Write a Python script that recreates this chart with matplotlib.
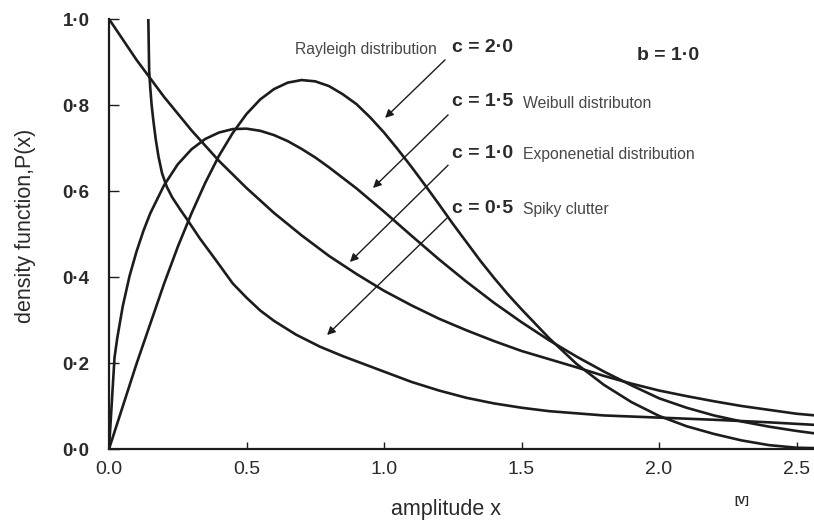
import matplotlib
matplotlib.use("Agg")
import matplotlib.pyplot as plt

# values (Weibull densities, b = 1.0)
x_ray = [0.0, 0.1, 0.2, 0.25, 0.3, 0.35, 0.4, 0.45, 0.5, 0.55, 0.6, 0.65, 0.7, 0.75,
         0.8, 0.85, 0.9, 0.95, 1.0, 1.05, 1.1, 1.15, 1.2, 1.25, 1.3, 1.35, 1.4, 1.45,
         1.5, 1.6, 1.7, 1.8, 1.9, 2.0, 2.1, 2.2, 2.3, 2.4, 2.5, 2.57]
y_ray = [0.0, 0.198, 0.384, 0.47, 0.548, 0.619, 0.682, 0.735, 0.779, 0.813, 0.837,
         0.852, 0.858, 0.855, 0.844, 0.825, 0.802, 0.771, 0.736, 0.697, 0.656, 0.613,
         0.569, 0.524, 0.481, 0.438, 0.398, 0.36, 0.325, 0.258, 0.198, 0.149, 0.109,
         0.077, 0.053, 0.035, 0.02, 0.009, 0.003, 0.002]

x_wei = [0.0, 0.02, 0.03, 0.05, 0.075, 0.1, 0.125, 0.15, 0.2, 0.25, 0.3, 0.35, 0.4,
         0.45, 0.5, 0.55, 0.6, 0.65, 0.7, 0.75, 0.8, 0.9, 1.0, 1.1, 1.2, 1.3, 1.4,
         1.5, 1.6, 1.7, 1.8, 1.9, 2.0, 2.1, 2.2, 2.3, 2.4, 2.5, 2.57]
y_wei = [0.0, 0.212, 0.258, 0.332, 0.403, 0.459, 0.507, 0.548, 0.613, 0.662, 0.697,
         0.721, 0.736, 0.744, 0.745, 0.74, 0.73, 0.716, 0.698, 0.678, 0.655, 0.606,
         0.552, 0.496, 0.441, 0.389, 0.34, 0.295, 0.253, 0.215, 0.18, 0.148, 0.118,
         0.096, 0.078, 0.064, 0.052, 0.042, 0.036]

x_exp = [0.0, 0.1, 0.2, 0.3, 0.4, 0.5, 0.6, 0.7, 0.8, 0.9, 1.0, 1.1, 1.2, 1.3, 1.4,
         1.5, 1.6, 1.7, 1.8, 1.9, 2.0, 2.1, 2.2, 2.3, 2.4, 2.5, 2.57]
y_exp = [1.0, 0.905, 0.819, 0.741, 0.67, 0.607, 0.549, 0.497, 0.449, 0.407, 0.368,
         0.334, 0.303, 0.276, 0.251, 0.228, 0.209, 0.19, 0.17, 0.152, 0.136, 0.123,
         0.111, 0.1, 0.091, 0.082, 0.078]

x_spk = [0.143, 0.146, 0.15, 0.155, 0.162, 0.17, 0.18, 0.193, 0.21, 0.23, 0.26, 0.285,
         0.33, 0.39, 0.45, 0.5, 0.55, 0.6, 0.68, 0.767, 0.85, 0.9, 1.0, 1.1, 1.2,
         1.3, 1.4, 1.5, 1.6, 1.8, 2.0, 2.2, 2.4, 2.57]
y_spk = [1.0, 0.88, 0.84, 0.8, 0.76, 0.72, 0.68, 0.641, 0.61, 0.585, 0.556, 0.533,
         0.49, 0.438, 0.385, 0.352, 0.322, 0.298, 0.266, 0.238, 0.216, 0.204,
         0.18, 0.156, 0.136, 0.119, 0.106, 0.096, 0.088, 0.078, 0.073, 0.068, 0.062,
         0.056]

curve_x = [x_ray, x_wei, x_exp, x_spk]
curve_y = [y_ray, y_wei, y_exp, y_spk]

c_labels = ["c = 2·0", "c = 1·5", "c = 1·0", "c = 0·5"]
c_names = ["", "Weibull distributon", "Exponenetial distribution", "Spiky clutter"]
label_y = [0.933, 0.807, 0.688, 0.56]
arrow_from = [(1.222, 0.905), (1.233, 0.777), (1.233, 0.66), (1.229, 0.537)]
arrow_to = [(1.004, 0.77), (0.96, 0.607), (0.876, 0.435), (0.793, 0.265)]

xticks = [0.0, 0.5, 1.0, 1.5, 2.0, 2.5]
xticklabels = ["0.0", "0.5", "1.0", "1.5", "2.0", "2.5"]
yticks = [0.0, 0.2, 0.4, 0.6, 0.8, 1.0]
yticklabels = ["0·0", "0·2", "0·4", "0·6", "0·8", "1·0"]

ink = "#1c1c1c"
sans = ["Liberation Sans", "DejaVu Sans"]

fig = plt.figure(figsize=(8.14, 5.22), dpi=100)
ax = fig.add_axes([109 / 814, 1 - 449 / 522, 705 / 814, 430 / 522])
ax.set_xlim(0, 705 / 275)
ax.set_ylim(0, 1.0)

for xs, ys in zip(curve_x, curve_y):
    ax.plot(xs, ys, color=ink, lw=1.9, solid_joinstyle="round")

for lab, name, ly, a0, a1 in zip(c_labels, c_names, label_y, arrow_from, arrow_to):
    ax.text(1.247, ly, lab, fontsize=14, fontweight="bold", color="#2a2a2a",
            family=sans, ha="left", va="center")
    if name:
        ax.text(1.505, ly - 0.004, name, fontsize=11.3, color="#474747",
                family=sans, ha="left", va="center")
    ax.annotate("", xy=a1, xytext=a0,
                arrowprops=dict(arrowstyle="-|>", lw=1.0, color=ink,
                                mutation_scale=12, shrinkA=0, shrinkB=0))

ax.text(1.193, 0.928, "Rayleigh distribution", fontsize=11.3, color="#474747",
        family=sans, ha="right", va="center")
ax.text(1.92, 0.914, "b = 1·0", fontsize=14, fontweight="bold", color="#2a2a2a",
        family=sans, ha="left", va="center")

for side in ["top", "right"]:
    ax.spines[side].set_visible(False)
for side in ["left", "bottom"]:
    ax.spines[side].set_linewidth(1.6)
    ax.spines[side].set_color(ink)

ax.set_xticks(xticks)
ax.set_xticklabels(xticklabels, family=sans, fontsize=14, color="#2a2a2a")
ax.set_yticks(yticks)
ax.set_yticklabels(yticklabels, family=sans, fontsize=13.5, color="#2a2a2a",
                   fontweight="bold")
ax.tick_params(axis="x", direction="in", length=5, width=1, pad=9, color=ink)
ax.tick_params(axis="y", direction="in", length=7, width=1, pad=14, color=ink)

ax.set_xlabel("amplitude x", family=sans, fontsize=15.5, color="#2a2a2a")
ax.xaxis.set_label_coords(0.478, -0.117)
ax.set_ylabel("density function,P(x)", family=sans, fontsize=15.5, color="#2a2a2a")
ax.yaxis.set_label_coords(-0.104, 0.52)
ax.text(2.301, -0.12, "[V]", fontsize=8, fontweight="bold", color="#2a2a2a",
        family=sans, ha="center", va="center")

fig.savefig("out.png", dpi=100, facecolor="white")
